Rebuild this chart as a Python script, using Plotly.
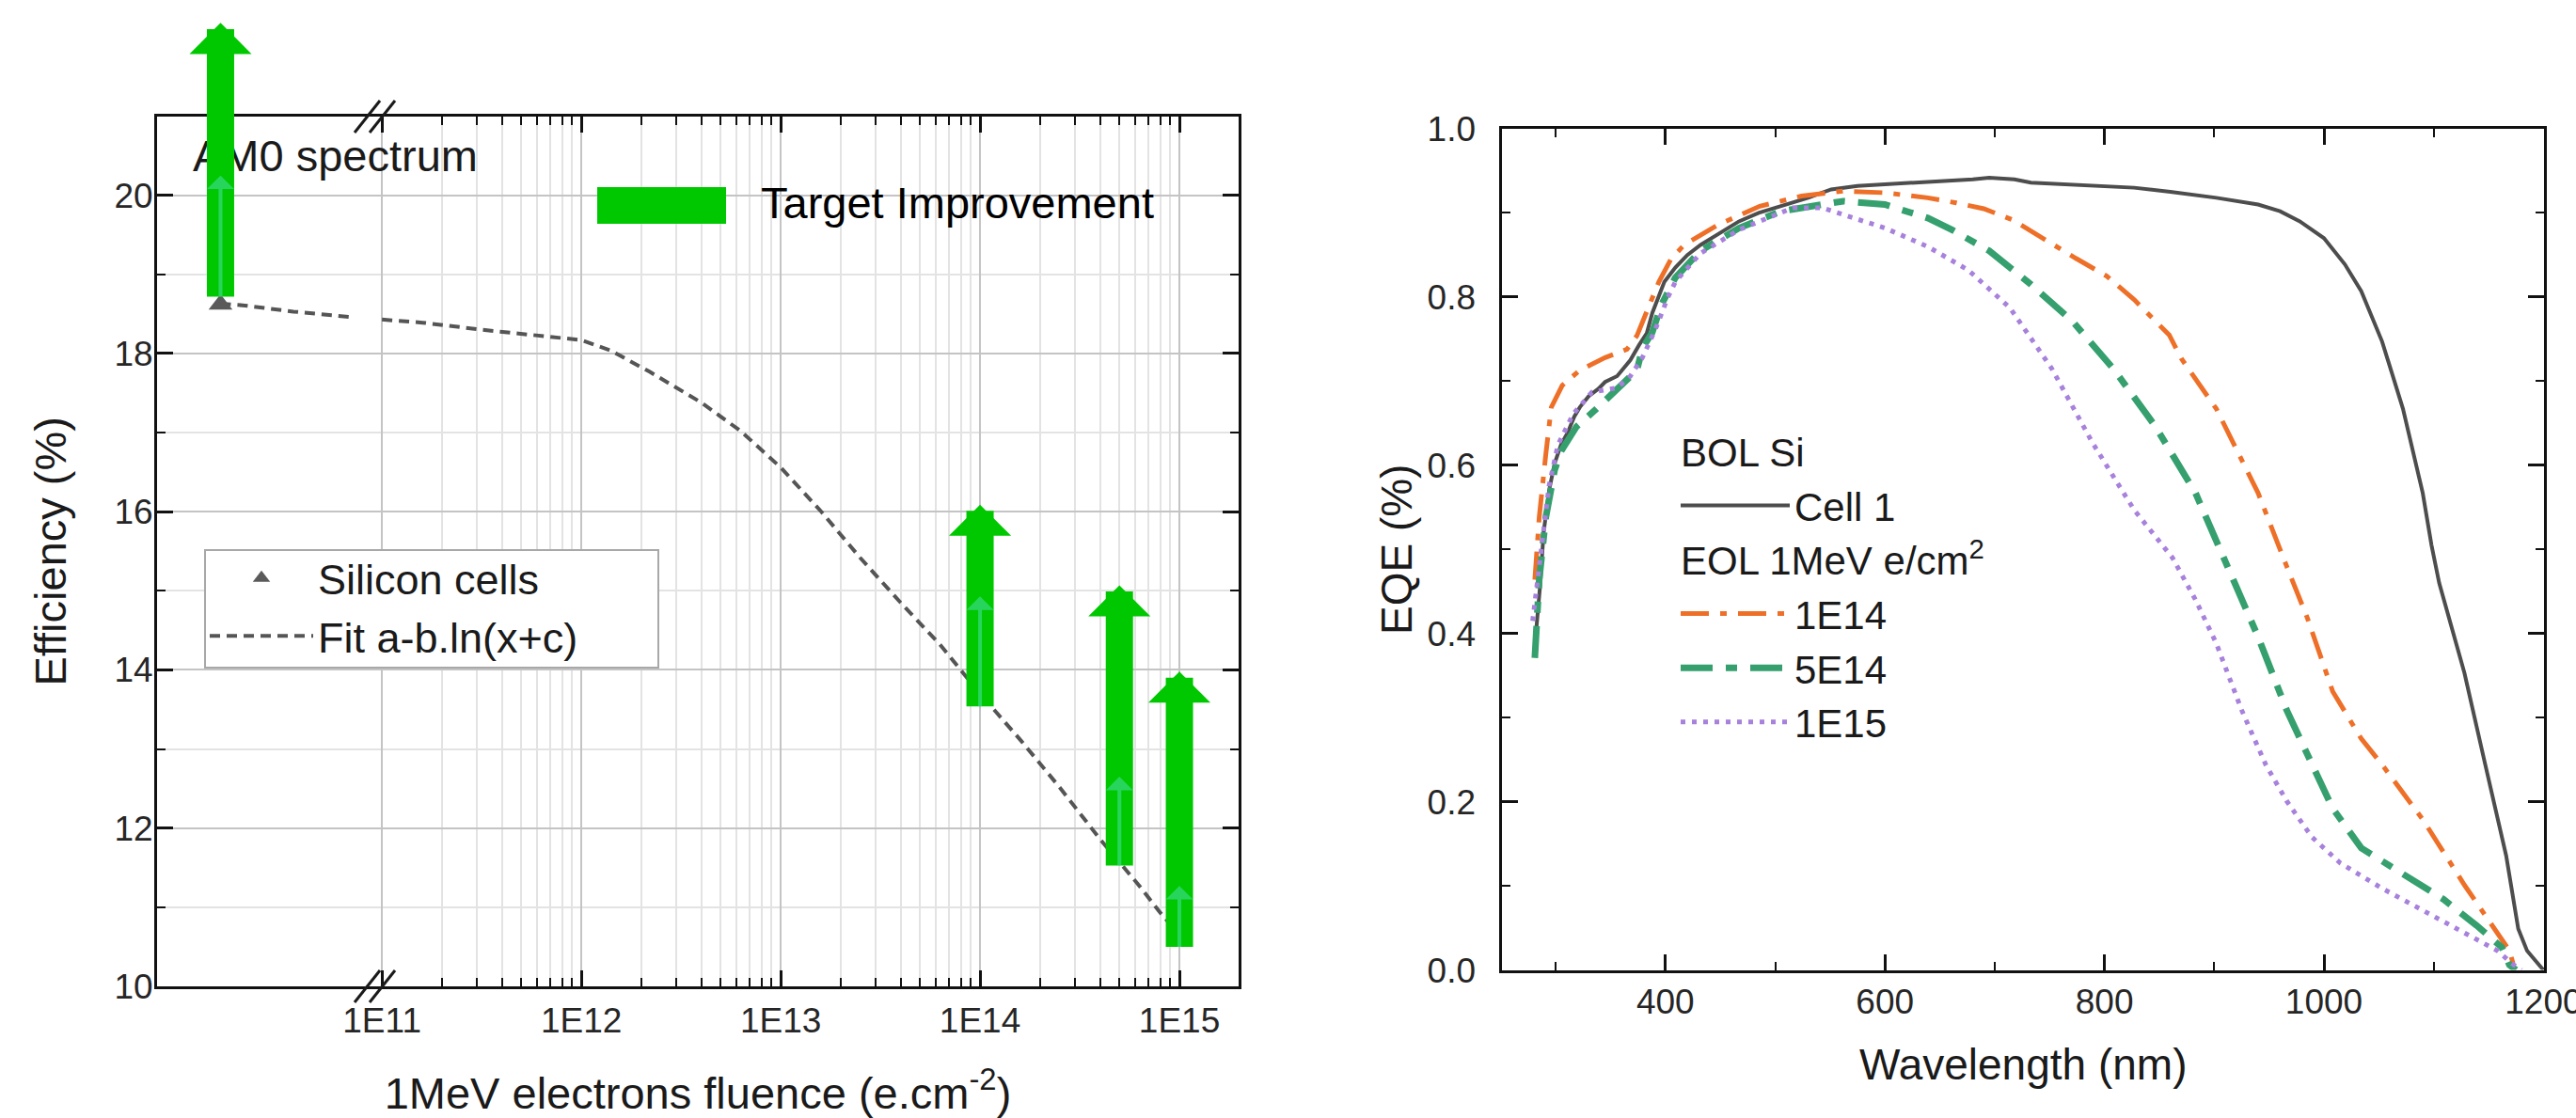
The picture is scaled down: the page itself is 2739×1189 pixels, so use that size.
import math
import plotly.graph_objects as go

FONT = "Liberation Sans, Arial, Helvetica, sans-serif"
W, H = 2739, 1189

# ---------------- Left panel: efficiency vs 1 MeV electron fluence ----------------
fluence_tickvals = [1e11, 1e12, 1e13, 1e14, 1e15]
fluence_ticktext = ["1E11", "1E12", "1E13", "1E14", "1E15"]
bol_position = 1.55e10  # BOL (zero fluence) point, shown left of the axis break

silicon_fluence = [bol_position]
silicon_eff = [18.62]

fit_fluence = [1.55e10, 2.0e10, 3.6e10, 7.1e10, None,
               1.0e11, 1.6e11, 3.2e11, 5.6e11, 1.0e12, 1.4e12, 2.2e12, 4.0e12, 6.3e12,
               1.0e13, 1.6e13, 2.5e13, 4.0e13, 6.3e13, 1.0e14, 1.6e14, 2.5e14, 4.0e14,
               6.3e14, 7.9e14, 1.0e15]
fit_eff = [18.63, 18.61, 18.53, 18.46, None,
           18.43, 18.39, 18.30, 18.24, 18.17, 18.04, 17.77, 17.38, 17.02,
           16.56, 16.00, 15.42, 14.85, 14.32, 13.70, 13.11, 12.52, 11.86,
           11.27, 10.95, 10.65]

improve_fluence = [bol_position, 1e14, 5e14, 1e15]
improve_from = [18.70, 13.52, 11.51, 10.48]
improve_to = [22.18, 16.09, 15.07, 13.98]
target_eff = [20.25, 14.93, 12.65, 11.27]

# ---------------- Right panel: EQE vs wavelength ----------------
cell1_wl = [282, 286, 289, 294, 299, 305, 311, 317, 322, 330,
            339, 345, 356, 368, 376, 383, 388, 394, 399, 409,
            420, 432, 450, 467, 485, 505, 530, 551, 575, 600,
            630, 658, 680, 695, 718, 733, 760, 790, 827, 860,
            902, 940, 960, 978, 1000, 1019, 1034, 1053, 1072, 1090,
            1098, 1105, 1128, 1147, 1166, 1177, 1185, 1196, 1200]
cell1_eqe = [0.40, 0.46, 0.52, 0.57, 0.602, 0.625, 0.639, 0.658, 0.669, 0.682,
             0.691, 0.699, 0.706, 0.725, 0.743, 0.757, 0.781, 0.800, 0.818, 0.835,
             0.850, 0.862, 0.877, 0.890, 0.900, 0.908, 0.918, 0.928, 0.932, 0.934,
             0.936, 0.938, 0.940, 0.942, 0.940, 0.936, 0.934, 0.932, 0.930, 0.925,
             0.918, 0.910, 0.902, 0.890, 0.870, 0.839, 0.807, 0.747, 0.667, 0.567,
             0.505, 0.46, 0.353, 0.244, 0.136, 0.049, 0.023, 0.006, 0.0]

e14_wl = [281, 285, 291, 296, 306, 322, 345, 365, 374, 382,
          394, 405, 417, 448, 486, 524, 562, 600, 639, 665,
          690, 716, 748, 774, 802, 827, 859, 870, 902, 940,
          966, 985, 1008, 1034, 1053, 1090, 1128, 1158, 1169, 1174]
e14_eqe = [0.464, 0.538, 0.613, 0.669, 0.695, 0.713, 0.728, 0.738, 0.754, 0.781,
           0.818, 0.845, 0.862, 0.886, 0.908, 0.920, 0.926, 0.924, 0.918, 0.912,
           0.905, 0.892, 0.866, 0.846, 0.825, 0.797, 0.755, 0.727, 0.667, 0.567,
           0.48, 0.418, 0.331, 0.275, 0.244, 0.179, 0.101, 0.045, 0.023, 0.0]

e5_wl = [281, 285, 291, 295, 299, 305, 319, 337, 354, 367,
         374, 379, 388, 396, 409, 432, 467, 505, 562, 600,
         639, 661, 695, 733, 771, 808, 846, 883, 911, 940,
         966, 989, 1008, 1034, 1072, 1109, 1139, 1162, 1169, 1175]
e5_eqe = [0.371, 0.464, 0.538, 0.567, 0.594, 0.617, 0.646, 0.667, 0.687, 0.703,
          0.713, 0.739, 0.758, 0.790, 0.823, 0.855, 0.882, 0.902, 0.914, 0.910,
          0.894, 0.880, 0.855, 0.815, 0.771, 0.715, 0.647, 0.567, 0.485, 0.396,
          0.309, 0.244, 0.192, 0.145, 0.114, 0.084, 0.053, 0.027, 0.006, 0.0]

e15_wl = [279, 285, 294, 302, 316, 333, 339, 351, 356, 368,
          379, 391, 402, 409, 432, 467, 516, 543, 562, 600,
          639, 676, 714, 752, 789, 827, 862, 883, 902, 925,
          947, 966, 989, 1015, 1053, 1090, 1128, 1158, 1173, 1180]
e15_eqe = [0.415, 0.482, 0.576, 0.624, 0.661, 0.687, 0.688, 0.691, 0.692, 0.706,
           0.728, 0.762, 0.799, 0.818, 0.852, 0.880, 0.906, 0.906, 0.898, 0.882,
           0.860, 0.832, 0.787, 0.715, 0.627, 0.547, 0.49, 0.44, 0.388, 0.309,
           0.244, 0.201, 0.158, 0.127, 0.097, 0.071, 0.045, 0.023, 0.006, 0.0]

assert len(cell1_wl) == len(cell1_eqe)
assert len(e14_wl) == len(e14_eqe)
assert len(e5_wl) == len(e5_eqe)
assert len(e15_wl) == len(e15_eqe)


def px(x):
    return x / W


def py(y):
    return 1 - y / H


GREEN = "#00C800"
TICK_FONT = dict(family=FONT, size=37, color="#262626")
TITLE_FONT = dict(family=FONT, size=47, color="#1a1a1a")

fig = go.Figure()

# ---- left panel traces ----
fig.add_trace(go.Scatter(
    x=fit_fluence, y=fit_eff, mode="lines", name="Fit a-b.ln(x+c)",
    line=dict(color="#555555", width=4, dash="11px,7px"),
    connectgaps=False, xaxis="x", yaxis="y", legend="legend", hoverinfo="skip"))
fig.add_trace(go.Scatter(
    x=silicon_fluence, y=silicon_eff, mode="markers", name="Silicon cells",
    marker=dict(symbol="triangle-up", size=22, color="#5a5a5a"),
    xaxis="x", yaxis="y", legend="legend"))

# ---- right panel traces ----
fig.add_trace(go.Scatter(
    x=cell1_wl, y=cell1_eqe, mode="lines", name="Cell 1",
    line=dict(color="#4d4d4d", width=4),
    legendgroup="bol", legendgrouptitle=dict(text="BOL Si"),
    xaxis="x2", yaxis="y2", legend="legend2"))
fig.add_trace(go.Scatter(
    x=e14_wl, y=e14_eqe, mode="lines", name="1E14",
    line=dict(color="#EE7028", width=5, dash="30px,12px,7px,12px"),
    legendgroup="eol", legendgrouptitle=dict(text="EOL 1MeV e/cm<sup>2</sup>"),
    xaxis="x2", yaxis="y2", legend="legend2"))
fig.add_trace(go.Scatter(
    x=e5_wl, y=e5_eqe, mode="lines", name="5E14",
    line=dict(color="#35A06E", width=7, dash="34px,14px,12px,14px"),
    legendgroup="eol", xaxis="x2", yaxis="y2", legend="legend2"))
fig.add_trace(go.Scatter(
    x=e15_wl, y=e15_eqe, mode="lines", name="1E15",
    line=dict(color="#A781DC", width=5, dash="5px,7px"),
    legendgroup="eol", xaxis="x2", yaxis="y2", legend="legend2"))

# ---- annotations ----
annotations = [
    dict(text="AM0 spectrum", x=px(203), y=py(165), xref="paper", yref="paper",
         xanchor="left", yanchor="middle", showarrow=False,
         font=dict(family=FONT, size=47, color="#1a1a1a")),
    dict(text="Target Improvement", x=px(807), y=py(216), xref="paper", yref="paper",
         xanchor="left", yanchor="middle", showarrow=False,
         font=dict(family=FONT, size=47, color="#000000")),
]
ARROW_LABEL = dict(text=" ", font=dict(size=2, color="rgba(0,0,0,0)"), borderpad=0)
for fx, y0, y1 in zip(improve_fluence, improve_from, improve_to):
    lx = math.log10(fx)
    annotations.append(dict(
        **ARROW_LABEL,
        x=lx, y=y1, ax=lx, ay=y0, xref="x", yref="y", axref="x", ayref="y",
        showarrow=True, arrowhead=1, arrowsize=0.38, arrowwidth=29,
        arrowcolor=GREEN, standoff=0, startstandoff=0))
for fx, y0, yt in zip(improve_fluence, improve_from, target_eff):
    lx = math.log10(fx)
    annotations.append(dict(
        **ARROW_LABEL,
        x=lx, y=yt, ax=lx, ay=y0, xref="x", yref="y", axref="x", ayref="y",
        showarrow=True, arrowhead=1, arrowsize=1.2, arrowwidth=4,
        arrowcolor="rgba(90,230,205,0.45)", standoff=0, startstandoff=0))

BREAK_LINE = dict(type="line", xref="paper", yref="paper", layer="above",
                  line=dict(color="#1a1a1a", width=3))
shapes = [
    # "Target Improvement" swatch
    dict(type="rect", xref="paper", yref="paper",
         x0=px(635), x1=px(772), y0=py(238), y1=py(199),
         fillcolor=GREEN, line=dict(width=0)),
    # frame of the left legend
    dict(type="rect", xref="paper", yref="paper", layer="above",
         x0=px(218), x1=px(700), y0=py(710), y1=py(585),
         fillcolor="white", line=dict(color="#a8a8a8", width=2)),
    # axis-break marks "//" on the top and bottom axes
    dict(**BREAK_LINE, x0=px(377), y0=py(141), x1=px(404), y1=py(107)),
    dict(**BREAK_LINE, x0=px(393), y0=py(141), x1=px(420), y1=py(107)),
    dict(**BREAK_LINE, x0=px(377), y0=py(1066), x1=px(404), y1=py(1032)),
    dict(**BREAK_LINE, x0=px(393), y0=py(1066), x1=px(420), y1=py(1032)),
]

minor_fluence = [m * 10 ** e for e in range(11, 15) for m in range(2, 10)]

axis_common = dict(
    showline=True, linewidth=3, linecolor="#111111", mirror="ticks",
    ticks="inside", ticklen=17, tickwidth=3, tickcolor="#111111",
    tickfont=TICK_FONT, zeroline=False, automargin=False,
    ticklabeloverflow="allow",
)

fig.update_layout(
    width=W, height=H,
    margin=dict(l=0, r=0, t=0, b=0, pad=0, autoexpand=False),
    paper_bgcolor="white", plot_bgcolor="white",
    font=dict(family=FONT, color="#1a1a1a"),
    showlegend=True,
    xaxis=dict(
        **axis_common,
        type="log", range=[9.872, 15.297],
        domain=[px(167), px(1317)], anchor="y",
        tickmode="array", tickvals=fluence_tickvals, ticktext=fluence_ticktext,
        showgrid=True, gridcolor="#c4c4c4", gridwidth=2,
        minor=dict(tickmode="array", tickvals=minor_fluence, ticks="inside",
                   ticklen=9, tickwidth=2, tickcolor="#111111",
                   showgrid=True, gridcolor="#e3e3e3", gridwidth=2),
        ticklabelstandoff=2,
        title=dict(text="1MeV electrons fluence (e.cm<sup>-2</sup>)",
                   font=TITLE_FONT, standoff=47),
    ),
    yaxis=dict(
        **axis_common,
        range=[10, 21], domain=[py(1049), py(123.6)], anchor="x",
        tickmode="array", tickvals=[10, 12, 14, 16, 18, 20],
        showgrid=True, gridcolor="#c4c4c4", gridwidth=2,
        minor=dict(tickmode="linear", tick0=10, dtick=1, ticks="inside",
                   ticklen=9, tickwidth=2, tickcolor="#111111",
                   showgrid=True, gridcolor="#e3e3e3", gridwidth=2),
        ticklabelstandoff=-6,
        title=dict(text="Efficiency (%)", font=TITLE_FONT, standoff=36),
    ),
    xaxis2=dict(
        **axis_common,
        range=[251.4, 1200.5], domain=[px(1597.4), px(2705)], anchor="y2",
        tickmode="array", tickvals=[400, 600, 800, 1000, 1200], showgrid=False,
        minor=dict(tickmode="array", tickvals=[300, 500, 700, 900, 1100], ticks="inside",
                   ticklen=9, tickwidth=2, tickcolor="#111111", showgrid=False),
        ticklabelstandoff=-1,
        title=dict(text="Wavelength (nm)", font=dict(family=FONT, size=46, color="#1a1a1a"),
                   standoff=31),
    ),
    yaxis2=dict(
        **axis_common,
        range=[0, 1.0], domain=[py(1031.6), py(137)], anchor="x2",
        tickmode="linear", tick0=0, dtick=0.2, tickformat=".1f", showgrid=False,
        minor=dict(tickmode="linear", tick0=0, dtick=0.1, ticks="inside",
                   ticklen=9, tickwidth=2, tickcolor="#111111", showgrid=False),
        ticklabelstandoff=18,
        title=dict(text="EQE (%)", font=dict(family=FONT, size=46, color="#1a1a1a"),
                   standoff=2),
    ),
    legend=dict(
        x=px(218), y=py(579), xanchor="left", yanchor="top",
        bgcolor="rgba(0,0,0,0)", borderwidth=0,
        font=dict(family=FONT, size=45, color="#1a1a1a"),
        itemwidth=110, tracegroupgap=0, traceorder="reversed",
    ),
    legend2=dict(
        x=px(1782), y=py(446), xanchor="left", yanchor="top",
        bgcolor="rgba(0,0,0,0)", borderwidth=0,
        font=dict(family=FONT, size=42, color="#1a1a1a"),
        grouptitlefont=dict(family=FONT, size=42, color="#1a1a1a"),
        itemwidth=116, tracegroupgap=0, traceorder="grouped",
    ),
    annotations=annotations,
    shapes=shapes,
)

fig.write_html("out.html", config={"displayModeBar": False},
               post_script="document.body.style.margin='0px';")
